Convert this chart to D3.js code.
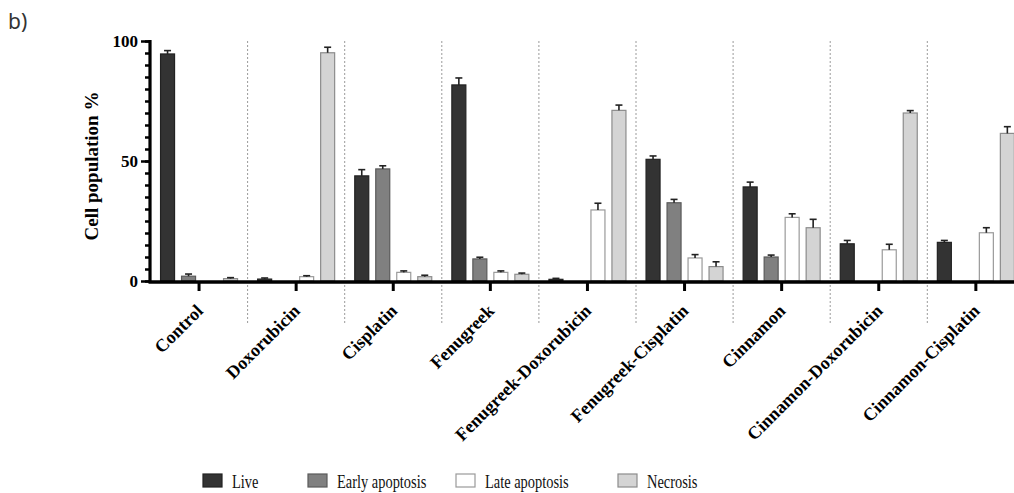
<!DOCTYPE html>
<html>
<head>
<meta charset="utf-8">
<script src="https://cdn.jsdelivr.net/npm/d3@7"></script>
<style>
  html, body { margin: 0; padding: 0; background: #fff; }
  svg { display: block; }
</style>
</head>
<body>
<svg id="chart" width="1014" height="493"></svg>
<script>
// Treatment groups along the x axis
const groups = ["Control", "Doxorubicin", "Cisplatin", "Fenugreek", "Fenugreek-Doxorubicin",
  "Fenugreek-Cisplatin", "Cinnamon", "Cinnamon-Doxorubicin", "Cinnamon-Cisplatin"];
const seriesNames = ["Live", "Early apoptosis", "Late apoptosis", "Necrosis"];

// Mean cell population (%) per group, one array per series
const live      = [94.6, 0.8, 43.8, 81.7, 0.7, 50.7, 39.2, 15.5, 16.1];
const early     = [2.0, 0, 46.7, 9.2, 0, 32.6, 10.0, 0, 0];
const late      = [0, 1.8, 3.6, 3.6, 29.6, 9.6, 26.5, 13.0, 20.1];
const necrosis  = [1.0, 95.1, 1.8, 2.8, 71.1, 6.0, 22.2, 70.0, 61.5];

// Standard deviations (upper error bars)
const liveErr     = [1.4, 0.45, 2.6, 2.9, 0.4, 1.4, 2.0, 1.4, 0.8];
const earlyErr    = [0.9, 0, 1.3, 0.7, 0, 1.4, 0.8, 0, 0];
const lateErr     = [0, 0.4, 0.6, 0.6, 2.8, 1.4, 1.5, 2.3, 2.1];
const necrosisErr = [0.4, 2.3, 0.6, 0.5, 2.2, 2.0, 3.5, 1.0, 2.8];

const yTicks = [0, 50, 100];

const seriesValues = [live, early, late, necrosis];
const seriesErrors = [liveErr, earlyErr, lateErr, necrosisErr];
const fills   = ["#333333", "#808080", "#ffffff", "#d4d4d4"];
const strokes = ["#222222", "#5a5a5a", "#9a9a9a", "#8c8c8c"];

const svg = d3.select("#chart");
const serif = "'Liberation Serif', 'Times New Roman', serif";

const y = d3.scaleLinear().domain([0, 100]).range([281, 41]);
const x0 = d3.scaleBand().domain(groups).range([150.5, 1024.4]).padding(0);
const x1 = d3.scaleBand().domain(seriesNames)
  .range([-42, 42]).paddingInner(1 / 3).paddingOuter(1 / 6);

// Panel tag
svg.append("text").attr("x", 8).attr("y", 29)
  .attr("font-family", "'Noto Sans', sans-serif").attr("font-size", 21)
  .attr("fill", "#333").text("b)");

// Dotted separators between groups
const step = x0.step();
svg.append("g").selectAll("line")
  .data(groups.slice(0, -1))
  .join("line")
  .attr("x1", d => x0(d) + step).attr("x2", d => x0(d) + step)
  .attr("y1", y(100)).attr("y2", 323)
  .attr("stroke", "#9a9a9a").attr("stroke-width", 1)
  .attr("stroke-dasharray", "2,2");

// Bars
const barData = [];
groups.forEach((g, gi) => {
  seriesNames.forEach((s, si) => {
    barData.push({ g, s, si, v: seriesValues[si][gi], e: seriesErrors[si][gi] });
  });
});

const bars = svg.append("g");
bars.selectAll("rect")
  .data(barData.filter(d => d.v > 0))
  .join("rect")
  .attr("x", d => x0(d.g) + step / 2 + x1(d.s))
  .attr("y", d => y(d.v))
  .attr("width", x1.bandwidth())
  .attr("height", d => y(0) - y(d.v))
  .attr("fill", d => fills[d.si])
  .attr("stroke", d => strokes[d.si])
  .attr("stroke-width", 1.2);

// Upper error bars with caps
const errG = svg.append("g").attr("stroke", "#222").attr("stroke-width", 1.6);
const withErr = barData.filter(d => d.v > 0 && d.e > 0);
const cx = d => x0(d.g) + step / 2 + x1(d.s) + x1.bandwidth() / 2;
errG.selectAll("line.stem")
  .data(withErr)
  .join("line").attr("class", "stem")
  .attr("x1", cx).attr("x2", cx)
  .attr("y1", d => y(d.v)).attr("y2", d => y(d.v + d.e));
errG.selectAll("line.cap")
  .data(withErr)
  .join("line").attr("class", "cap")
  .attr("x1", d => cx(d) - 3.5).attr("x2", d => cx(d) + 3.5)
  .attr("y1", d => y(d.v + d.e)).attr("y2", d => y(d.v + d.e));

// Y axis: major ticks with labels, minor ticks every 5
const yAxis = svg.append("g").attr("transform", "translate(150,0)");
yAxis.call(d3.axisLeft(y).tickValues(d3.range(0, 101, 5)).tickSize(5).tickFormat(""))
  .call(g => g.select(".domain").remove())
  .call(g => g.selectAll(".tick line").attr("stroke", "#000").attr("stroke-width", 2.5));
const yMajor = svg.append("g").attr("transform", "translate(150,0)");
yMajor.call(d3.axisLeft(y).tickValues(yTicks).tickSize(9).tickPadding(3))
  .call(g => g.select(".domain").remove())
  .call(g => g.selectAll(".tick line").attr("stroke", "#000").attr("stroke-width", 2.5))
  .call(g => g.selectAll(".tick text")
    .attr("font-family", serif).attr("font-weight", "bold")
    .attr("font-size", 17).attr("fill", "#000"));
svg.append("line").attr("x1", 150).attr("x2", 150)
  .attr("y1", y(100) - 1).attr("y2", 283)
  .attr("stroke", "#000").attr("stroke-width", 3.2);

svg.append("text")
  .attr("transform", "translate(98,166) rotate(-90)")
  .attr("text-anchor", "middle")
  .attr("font-family", serif).attr("font-weight", "bold").attr("font-size", 19)
  .text("Cell population %");

// X axis
const xAxis = svg.append("g").attr("transform", "translate(0,282)");
xAxis.call(d3.axisBottom(x0).tickSize(9).tickFormat(""))
  .call(g => g.select(".domain").remove())
  .call(g => g.selectAll(".tick line").attr("stroke", "#000").attr("stroke-width", 3));
svg.append("line").attr("x1", 148.5).attr("x2", 1014)
  .attr("y1", 282).attr("y2", 282)
  .attr("stroke", "#000").attr("stroke-width", 3.4);

svg.append("g").selectAll("text")
  .data(groups)
  .join("text")
  .attr("transform", d => `translate(${x0(d) + step / 2 + 5},312) rotate(-45)`)
  .attr("text-anchor", "end")
  .attr("font-family", serif).attr("font-weight", "bold").attr("font-size", 18)
  .text(d => d);

// Legend
const legendX = [203, 308, 456, 618];
const legend = svg.append("g");
seriesNames.forEach((s, i) => {
  legend.append("rect")
    .attr("x", legendX[i]).attr("y", 474).attr("width", 19).attr("height", 13)
    .attr("fill", fills[i]).attr("stroke", strokes[i]).attr("stroke-width", 1.2);
  legend.append("text")
    .attr("transform", `translate(${legendX[i] + 29},487.5) scale(0.78,1)`)
    .attr("font-family", serif).attr("font-size", 18.5).attr("fill", "#111")
    .text(s);
});
</script>
</body>
</html>
